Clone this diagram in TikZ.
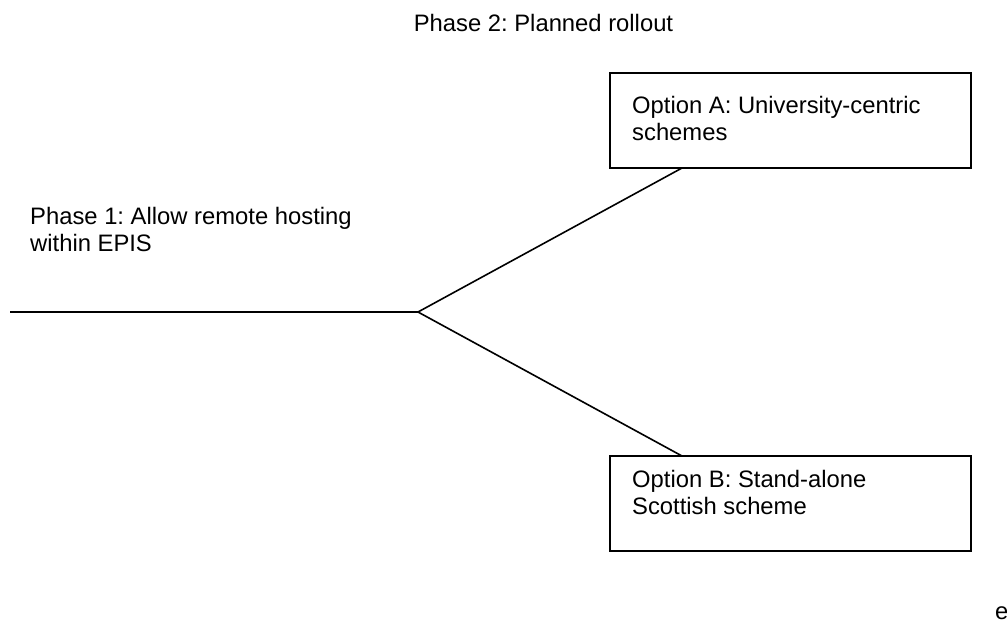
\documentclass[tikz,border=0pt]{standalone}
\usepackage{fontspec}
\setmainfont{Liberation Sans}
\frenchspacing
\begin{document}
\begin{tikzpicture}[x=1pt,y=-1pt,
  txt/.style={anchor=base west,inner sep=0pt,font=\fontsize{23.8}{27}\selectfont,align=left},
  optbox/.style={draw,line width=1.6pt,minimum width=361pt,minimum height=95pt,inner sep=0pt},
  branch/.style={line width=1.6pt}]
\useasboundingbox (0,0) rectangle (1007,623);
% title
\node[txt,anchor=base] (title) at (543.5,32) {Phase 2: Planned rollout};
% phase 1 label (anchored on the baseline of its last line)
\node[txt] (p1) at (30,251) {Phase 1: Allow remote hosting\\within EPIS};
\coordinate (start) at (10,312);
\coordinate (fork) at (418,312);
% option boxes
\node[optbox] (boxA) at (790.5,120.5) {};
\node[optbox] (boxB) at (790.5,503.5) {};
\node[txt] (optA) at (632,141) {Option A: University-centric\\schemes};
\node[txt] (optB) at (632,514) {Option B: Stand-alone\\Scottish scheme};
% branches from the stem to each option
\coordinate (endA) at (682,168);
\coordinate (endB) at (682,456);
\draw[branch] (start) -- (fork) -- (endA);
\draw[branch] (fork) -- (endB);
\node[txt] (stray) at (995,619) {e};
\end{tikzpicture}
\end{document}
